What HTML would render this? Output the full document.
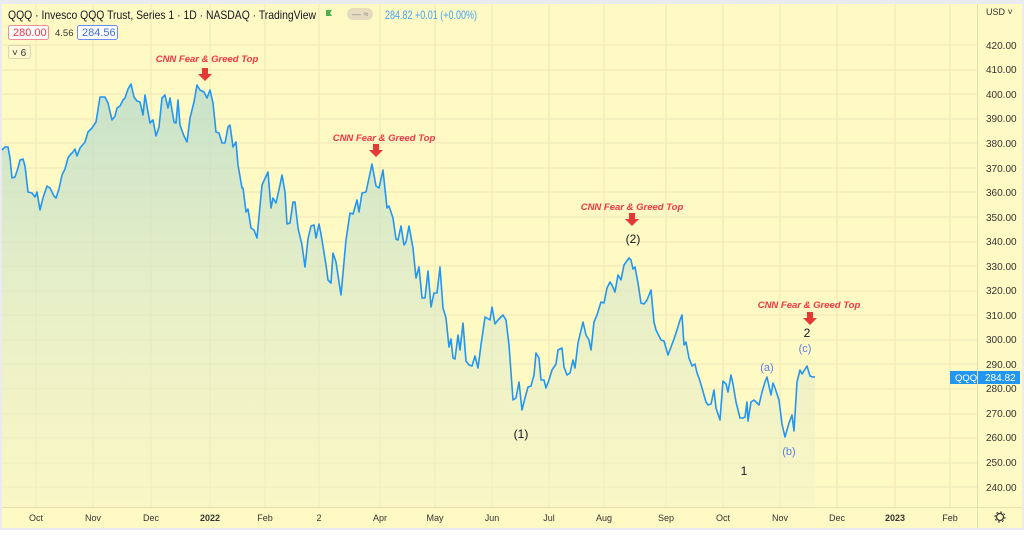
<!DOCTYPE html>
<html><head><meta charset="utf-8"><style>
html,body{margin:0;padding:0;}
body{width:1024px;height:530px;overflow:hidden;background:#fff;font-family:"Liberation Sans",sans-serif;}
svg text{font-family:"Liberation Sans",sans-serif;}
</style></head><body>
<svg width="1024" height="530" viewBox="0 0 1024 530" xmlns="http://www.w3.org/2000/svg">
<defs>
<linearGradient id="g" x1="0" y1="0" x2="0" y2="1">
<stop offset="0" stop-color="#b9dccb" stop-opacity="0.8"/>
<stop offset="1" stop-color="#f2f3c8" stop-opacity="0.4"/>
</linearGradient>
</defs>
<rect x="0" y="0" width="1024" height="530" fill="#e9ebf0"/>
<rect x="2" y="4" width="1020" height="524" fill="#fff9c4"/>
<g stroke="#efe8b8" stroke-width="1">
<line x1="36" y1="4" x2="36" y2="507"/><line x1="93" y1="4" x2="93" y2="507"/><line x1="151" y1="4" x2="151" y2="507"/><line x1="210" y1="4" x2="210" y2="507"/><line x1="265" y1="4" x2="265" y2="507"/><line x1="319" y1="4" x2="319" y2="507"/><line x1="380" y1="4" x2="380" y2="507"/><line x1="435" y1="4" x2="435" y2="507"/><line x1="492" y1="4" x2="492" y2="507"/><line x1="549" y1="4" x2="549" y2="507"/><line x1="604" y1="4" x2="604" y2="507"/><line x1="666" y1="4" x2="666" y2="507"/><line x1="723" y1="4" x2="723" y2="507"/><line x1="780" y1="4" x2="780" y2="507"/><line x1="837" y1="4" x2="837" y2="507"/><line x1="895" y1="4" x2="895" y2="507"/><line x1="950" y1="4" x2="950" y2="507"/>
<line x1="2" y1="45" x2="977" y2="45"/><line x1="2" y1="70" x2="977" y2="70"/><line x1="2" y1="94" x2="977" y2="94"/><line x1="2" y1="119" x2="977" y2="119"/><line x1="2" y1="143" x2="977" y2="143"/><line x1="2" y1="168" x2="977" y2="168"/><line x1="2" y1="192" x2="977" y2="192"/><line x1="2" y1="217" x2="977" y2="217"/><line x1="2" y1="242" x2="977" y2="242"/><line x1="2" y1="266" x2="977" y2="266"/><line x1="2" y1="291" x2="977" y2="291"/><line x1="2" y1="315" x2="977" y2="315"/><line x1="2" y1="340" x2="977" y2="340"/><line x1="2" y1="364" x2="977" y2="364"/><line x1="2" y1="389" x2="977" y2="389"/><line x1="2" y1="414" x2="977" y2="414"/><line x1="2" y1="438" x2="977" y2="438"/><line x1="2" y1="463" x2="977" y2="463"/><line x1="2" y1="487" x2="977" y2="487"/>
</g>
<line x1="977.5" y1="4" x2="977.5" y2="528" stroke="#e6dfae"/>
<line x1="2" y1="507.5" x2="1022" y2="507.5" stroke="#e6dfae"/>
<polygon fill="url(#g)" points="2,507 2,150 5,147 8,147 10,158 12,178 15,177 18,168 20,160 23,159 25,166 28,192 32,193 35,197 37,192 40,210 43,198 47,186 50,188 54,196 56,198 59,189 62,175 65,169 68,158 70,155 73,152 75,149 77,156 80,148 85,142 88,132 92,128 96,122 100,97 105,97 108,103 112,120 115,116 117,108 120,106 123,100 125,98 128,89 131,84 134,97 137,101 140,102 143,115 145,95 150,123 153,120 156,136 159,127 162,98 165,95 168,108 170,98 174,122 176,123 178,100 180,125 184,136 187,142 190,118 194,102 197,85 200,90 204,92 207,98 210,90 213,103 216,132 219,133 222,143 225,143 228,127 230,125 233,147 236,142 238,165 242,188 243,188 246,212 248,209 251,228 254,230 257,238 262,185 268,172 271,208 273,198 276,203 280,185 282,175 285,192 287,224 290,223 293,202 295,202 298,228 302,245 305,267 308,239 311,226 314,225 316,238 319,224 321,234 326,265 328,280 331,283 333,253 336,262 339,282 341,295 346,240 350,213 353,214 357,200 359,212 362,193 366,192 369,178 372,164 376,186 379,188 383,170 387,208 389,206 393,218 396,239 398,240 401,226 404,245 406,242 409,226 413,248 416,278 419,267 422,298 425,298 428,271 431,307 434,293 437,293 440,267 443,308 446,318 449,347 451,339 453,358 455,359 458,335 460,350 463,323 466,361 469,365 472,366 475,356 478,368 481,345 485,317 490,320 492,307 495,324 498,320 503,315 506,320 509,345 513,400 516,398 519,382 522,410 525,398 528,387 531,386 534,375 536,353 539,358 541,380 544,380 546,388 549,380 552,370 556,364 558,350 562,348 564,367 567,375 570,373 573,360 575,368 578,343 583,322 586,335 589,340 591,350 594,322 597,315 601,302 604,303 607,288 610,282 612,285 615,292 618,275 621,280 624,265 629,258 631,260 633,269 635,267 638,283 641,303 644,304 647,300 651,290 654,322 656,330 661,340 664,341 668,355 671,347 674,339 677,330 680,320 682,315 684,345 686,342 689,358 692,366 695,364 697,373 699,378 702,388 706,402 708,405 711,404 714,390 716,408 720,420 723,381 726,384 728,392 731,375 733,384 736,402 740,418 743,418 745,417 747,402 748,421 751,402 754,400 757,403 759,405 762,392 765,382 767,377 771,395 773,383 775,388 779,400 782,424 785,437 789,423 792,415 794,431 797,382 800,370 802,374 807,366 810,376 813,377 815,377 815,507"/>
<polyline fill="none" stroke="#2196f3" stroke-width="1.6" stroke-linejoin="round" points="2,150 5,147 8,147 10,158 12,178 15,177 18,168 20,160 23,159 25,166 28,192 32,193 35,197 37,192 40,210 43,198 47,186 50,188 54,196 56,198 59,189 62,175 65,169 68,158 70,155 73,152 75,149 77,156 80,148 85,142 88,132 92,128 96,122 100,97 105,97 108,103 112,120 115,116 117,108 120,106 123,100 125,98 128,89 131,84 134,97 137,101 140,102 143,115 145,95 150,123 153,120 156,136 159,127 162,98 165,95 168,108 170,98 174,122 176,123 178,100 180,125 184,136 187,142 190,118 194,102 197,85 200,90 204,92 207,98 210,90 213,103 216,132 219,133 222,143 225,143 228,127 230,125 233,147 236,142 238,165 242,188 243,188 246,212 248,209 251,228 254,230 257,238 262,185 268,172 271,208 273,198 276,203 280,185 282,175 285,192 287,224 290,223 293,202 295,202 298,228 302,245 305,267 308,239 311,226 314,225 316,238 319,224 321,234 326,265 328,280 331,283 333,253 336,262 339,282 341,295 346,240 350,213 353,214 357,200 359,212 362,193 366,192 369,178 372,164 376,186 379,188 383,170 387,208 389,206 393,218 396,239 398,240 401,226 404,245 406,242 409,226 413,248 416,278 419,267 422,298 425,298 428,271 431,307 434,293 437,293 440,267 443,308 446,318 449,347 451,339 453,358 455,359 458,335 460,350 463,323 466,361 469,365 472,366 475,356 478,368 481,345 485,317 490,320 492,307 495,324 498,320 503,315 506,320 509,345 513,400 516,398 519,382 522,410 525,398 528,387 531,386 534,375 536,353 539,358 541,380 544,380 546,388 549,380 552,370 556,364 558,350 562,348 564,367 567,375 570,373 573,360 575,368 578,343 583,322 586,335 589,340 591,350 594,322 597,315 601,302 604,303 607,288 610,282 612,285 615,292 618,275 621,280 624,265 629,258 631,260 633,269 635,267 638,283 641,303 644,304 647,300 651,290 654,322 656,330 661,340 664,341 668,355 671,347 674,339 677,330 680,320 682,315 684,345 686,342 689,358 692,366 695,364 697,373 699,378 702,388 706,402 708,405 711,404 714,390 716,408 720,420 723,381 726,384 728,392 731,375 733,384 736,402 740,418 743,418 745,417 747,402 748,421 751,402 754,400 757,403 759,405 762,392 765,382 767,377 771,395 773,383 775,388 779,400 782,424 785,437 789,423 792,415 794,431 797,382 800,370 802,374 807,366 810,376 813,377 815,377"/>
<g font-size="9.5" font-weight="bold" font-style="italic" fill="#f23645" text-anchor="middle">
<text x="207" y="62">CNN Fear &amp; Greed Top</text>
<text x="384" y="141">CNN Fear &amp; Greed Top</text>
<text x="632" y="210">CNN Fear &amp; Greed Top</text>
<text x="809" y="308">CNN Fear &amp; Greed Top</text>
</g>
<g fill="#e53935">
<path d="M202,68h6v6h4l-7,7l-7,-7h4z"/>
<path d="M373,144h6v6h4l-7,7l-7,-7h4z"/>
<path d="M629,213h6v6h4l-7,7l-7,-7h4z"/>
<path d="M807,312h6v6h4l-7,7l-7,-7h4z"/>
</g>
<g font-size="12" fill="#131722" text-anchor="middle">
<text x="633" y="243">(2)</text>
<text x="521" y="438">(1)</text>
<text x="744" y="475">1</text>
<text x="807" y="337">2</text>
</g>
<g font-size="11" fill="#5b7fe6" text-anchor="middle">
<text x="805" y="352">(c)</text>
<text x="767" y="371">(a)</text>
<text x="789" y="455">(b)</text>
</g>
<text x="8" y="19" font-size="12" fill="#131722" textLength="308" lengthAdjust="spacingAndGlyphs">QQQ · Invesco QQQ Trust, Series 1 · 1D · NASDAQ · TradingView</text>
<path d="M326,10h6l-2,3l2,3h-6z" fill="#4caf50"/>
<rect x="347" y="8" width="26" height="12" rx="6" fill="#e8dcc0"/>
<text x="352" y="17" font-size="9" fill="#888">— ≈</text>
<text x="385" y="19" font-size="12" fill="#42a5f5" textLength="92" lengthAdjust="spacingAndGlyphs">284.82 +0.01 (+0.00%)</text>
<rect x="8.5" y="25.5" width="40" height="14" rx="2" fill="#fff" stroke="#f28c95"/>
<text x="13" y="36" font-size="11" fill="#f23645">280.00</text>
<text x="55" y="36" font-size="9.5" fill="#333">4.56</text>
<rect x="77.5" y="25.5" width="40" height="14" rx="2" fill="#fff" stroke="#6b8cf0"/>
<text x="82" y="36" font-size="11" fill="#3f6ce0">284.56</text>
<rect x="8.5" y="45.5" width="22" height="13" rx="2" fill="#fff8d0" stroke="#ddd5ad"/>
<text x="12" y="56" font-size="10" fill="#333">˅ 6</text>
<g font-size="10" fill="#333">
<text x="986" y="15" font-size="9">USD ˅</text>
<text x="986" y="49">420.00</text><text x="986" y="73">410.00</text><text x="986" y="98">400.00</text><text x="986" y="122">390.00</text><text x="986" y="147">380.00</text><text x="986" y="172">370.00</text><text x="986" y="196">360.00</text><text x="986" y="221">350.00</text><text x="986" y="245">340.00</text><text x="986" y="270">330.00</text><text x="986" y="294">320.00</text><text x="986" y="319">310.00</text><text x="986" y="343">300.00</text><text x="986" y="368">290.00</text><text x="986" y="392">280.00</text><text x="986" y="417">270.00</text><text x="986" y="441">260.00</text><text x="986" y="466">250.00</text><text x="986" y="491">240.00</text>
</g>
<rect x="950" y="371" width="27" height="13" fill="#2196f3"/>
<text x="955" y="381" font-size="9.5" fill="#fff">QQQ</text>
<rect x="978" y="371" width="42" height="13" fill="#2196f3"/>
<text x="985" y="381" font-size="10" fill="#fff">284.82</text>
<g font-size="9" fill="#333" text-anchor="middle">
<text x="36" y="521">Oct</text><text x="93" y="521">Nov</text><text x="151" y="521">Dec</text><text x="210" y="521" font-weight="bold">2022</text><text x="265" y="521">Feb</text><text x="319" y="521">2</text><text x="380" y="521">Apr</text><text x="435" y="521">May</text><text x="492" y="521">Jun</text><text x="549" y="521">Jul</text><text x="604" y="521">Aug</text><text x="666" y="521">Sep</text><text x="723" y="521">Oct</text><text x="780" y="521">Nov</text><text x="837" y="521">Dec</text><text x="895" y="521" font-weight="bold">2023</text><text x="950" y="521">Feb</text>
</g>
<circle cx="1000" cy="517" r="3.5" fill="none" stroke="#333" stroke-width="1.2"/>
<circle cx="1000" cy="517" r="5" fill="none" stroke="#333" stroke-width="1" stroke-dasharray="2 1.9"/>
</svg>
</body></html>
